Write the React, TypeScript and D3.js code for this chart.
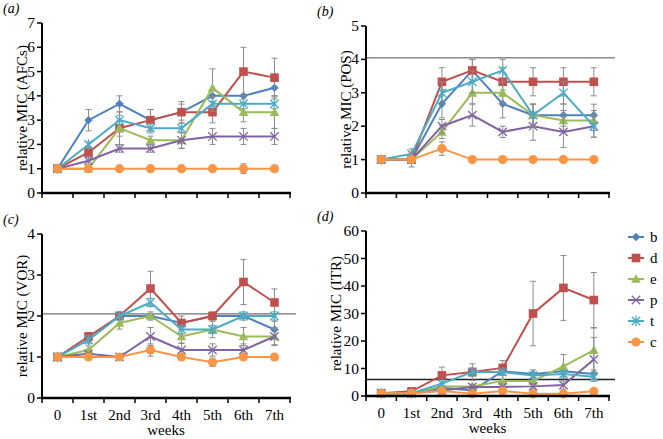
import React from "react";
import * as d3 from "d3";

// ---------- data ----------
const weeks = ["0", "1st", "2nd", "3rd", "4th", "5th", "6th", "7th"];
const seriesNames = ["b", "d", "e", "p", "t", "c"];

// (a) AFCs
const aB = [1, 3.0, 3.67, 3.0, 3.33, 4.0, 4.0, 4.33];
const aD = [1, 1.67, 2.67, 3.0, 3.33, 3.33, 5.0, 4.75];
const aE = [1, 1.0, 2.67, 2.17, 2.17, 4.33, 3.33, 3.33];
const aP = [1, 1.33, 1.83, 1.83, 2.17, 2.33, 2.33, 2.33];
const aT = [1, 2.0, 3.0, 2.67, 2.67, 3.67, 3.67, 3.67];
const aC = [1, 1, 1, 1, 1, 1, 1, 1];
const aBErr = [0, 0.44, 0.33, 0.44, 0.33, 0, 0, 0.33];
const aDErr = [0, 0.2, 0.33, 0.44, 0.44, 0.44, 1.0, 0.8];
const aEErr = [0, 0, 0.67, 0.17, 0.33, 0.78, 0.4, 0.67];
const aPErr = [0, 0.15, 0.15, 0.15, 0.33, 0.33, 0.33, 0.33];
const aTErr = [0, 0.1, 0.2, 0.2, 0.2, 0.3, 0.2, 0.2];
const aCErr = [0, 0, 0, 0, 0, 0, 0.2, 0];

// (b) POS
const bB = [1, 1.0, 2.67, 3.67, 2.67, 2.33, 2.33, 2.33];
const bD = [1, 1.0, 3.33, 3.67, 3.33, 3.33, 3.33, 3.33];
const bE = [1, 1.0, 1.83, 3.0, 3.0, 2.33, 2.17, 2.17];
const bP = [1, 1.0, 2.0, 2.33, 1.83, 2.0, 1.83, 2.0];
const bT = [1, 1.17, 3.0, 3.33, 3.67, 2.33, 3.0, 2.0];
const bC = [1, 1, 1.33, 1, 1, 1, 1, 1];
const bBErr = [0, 0, 0.42, 0.33, 0.42, 0.33, 0.33, 0.33];
const bDErr = [0, 0, 0.42, 0.33, 0.42, 0.42, 0.42, 0.42];
const bEErr = [0, 0, 0.2, 0.33, 0.33, 0.33, 0.3, 0.3];
const bPErr = [0, 0, 0.2, 0.33, 0.17, 0.42, 0.47, 0.33];
const bTErr = [0, 0.15, 0.33, 0.33, 0.33, 0.33, 0.33, 0.33];
const bCErr = [0, 0.22, 0.2, 0, 0, 0, 0, 0];

// (c) VOR
const cB = [1, 1.42, 2.0, 2.0, 1.83, 2.0, 2.0, 1.67];
const cD = [1, 1.5, 2.0, 2.67, 1.83, 2.0, 2.83, 2.33];
const cE = [1, 1.17, 1.83, 2.0, 1.5, 1.67, 1.5, 1.5];
const cP = [1, 1.08, 1.0, 1.5, 1.17, 1.17, 1.17, 1.5];
const cT = [1, 1.42, 2.0, 2.33, 1.67, 1.67, 2.0, 2.0];
const cC = [1, 1, 1, 1.17, 1, 0.87, 1, 1];
const cBErr = [0, 0, 0, 0, 0, 0, 0, 0.2];
const cDErr = [0, 0.1, 0.1, 0.42, 0.17, 0.1, 0.55, 0.33];
const cEErr = [0, 0.1, 0.15, 0.1, 0.17, 0.2, 0.22, 0.2];
const cPErr = [0, 0, 0, 0.22, 0.17, 0.15, 0.15, 0.22];
const cTErr = [0, 0.1, 0, 0.1, 0.1, 0.1, 0.1, 0.1];
const cCErr = [0, 0, 0, 0.15, 0, 0.1, 0, 0];

// (d) ITR
const dB = [1, 1, 3.0, 2.0, 9.0, 8.0, 9.0, 8.0];
const dD = [1, 1.7, 7.5, 8.7, 10.2, 30, 39.3, 34.9];
const dE = [1, 1, 3.5, 3.5, 5.5, 5.5, 10.8, 16.7];
const dP = [1, 1, 2.0, 3.3, 3.3, 3.5, 4.0, 13.3];
const dT = [1, 1, 4.5, 8.7, 8.7, 7.5, 8.0, 7.0];
const dC = [1, 1, 1.8, 0.8, 1.8, 0.8, 0.8, 1.7];
const dBErr = [0, 0, 0, 0, 0, 1.5, 1, 1.5];
const dDErr = [0, 0.5, 3, 3, 2.7, 11.7, 11.8, 10];
const dEErr = [0, 0, 0, 0, 0, 0, 4.3, 8];
const dPErr = [0, 0, 0, 1, 1, 1, 1.5, 8];
const dTErr = [0, 0, 0, 1.5, 1, 1, 1, 1];
const dCErr = [0, 0, 0, 0, 0, 0, 0, 0];

const aTicks = [0, 1, 2, 3, 4, 5, 6, 7];
const bTicks = [0, 1, 2, 3, 4, 5];
const cTicks = [0, 1, 2, 3, 4];
const dTicks = [0, 10, 20, 30, 40, 50, 60];

// ---------- styles ----------
const seriesColors = ["#4F81BD", "#C0504D", "#9BBB59", "#8064A2", "#4BACC6", "#F79646"];
const seriesShapes = ["diamond", "square", "triangle", "times", "asterisk", "circle"];
const FONT = "'Liberation Serif', 'Times New Roman', serif";

type PanelCfg = {
  label: string;
  labelX: number;
  title: string;
  values: number[][];
  errors: number[][];
  ticks: number[];
  refLine: number | null;
  refColor: string;
  xRange: [number, number];
  yRange: [number, number];
  showX: boolean;
};

const panels: PanelCfg[] = [
  {
    label: "(a)", labelX: 3, title: "relative MIC (AFCs)",
    values: [aB, aD, aE, aP, aT, aC], errors: [aBErr, aDErr, aEErr, aPErr, aTErr, aCErr],
    ticks: aTicks, refLine: null, refColor: "#808080",
    xRange: [42, 290], yRange: [193, 23], showX: false,
  },
  {
    label: "(b)", labelX: 317, title: "relative MIC (POS)",
    values: [bB, bD, bE, bP, bT, bC], errors: [bBErr, bDErr, bEErr, bPErr, bTErr, bCErr],
    ticks: bTicks, refLine: 4.05, refColor: "#8a8a8a",
    xRange: [366, 609], yRange: [193, 26], showX: false,
  },
  {
    label: "(c)", labelX: 3, title: "relative MIC (VOR)",
    values: [cB, cD, cE, cP, cT, cC], errors: [cBErr, cDErr, cEErr, cPErr, cTErr, cCErr],
    ticks: cTicks, refLine: 2.05, refColor: "#707070",
    xRange: [42, 290], yRange: [398, 234], showX: true,
  },
  {
    label: "(d)", labelX: 317, title: "relative MIC (ITR)",
    values: [dB, dD, dE, dP, dT, dC], errors: [dBErr, dDErr, dEErr, dPErr, dTErr, dCErr],
    ticks: dTicks, refLine: 6, refColor: "#222222",
    xRange: [366, 609], yRange: [396, 231], showX: true,
  },
];

function Marker({ shape, x, y, color }: { shape: string; x: number; y: number; color: string }) {
  if (shape === "circle") return <circle cx={x} cy={y} r={4.6} fill={color} />;
  if (shape === "square") return <rect x={x - 4.3} y={y - 4.3} width={8.6} height={8.6} fill={color} />;
  if (shape === "diamond") {
    const r = 4.2;
    return <path d={`M${x},${y - r}L${x + r},${y}L${x},${y + r}L${x - r},${y}Z`} fill={color} />;
  }
  if (shape === "triangle") {
    const r = 4.8;
    return <path d={`M${x},${y - r}L${x + r},${y + r * 0.8}L${x - r},${y + r * 0.8}Z`} fill={color} />;
  }
  const r = 4.2;
  const xs = `M${x - r},${y - r}L${x + r},${y + r}M${x - r},${y + r}L${x + r},${y - r}`;
  if (shape === "times") return <path d={xs} stroke={color} strokeWidth={1.3} fill="none" />;
  return <path d={xs + `M${x},${y - r - 1}L${x},${y + r + 1}`} stroke={color} strokeWidth={1.3} fill="none" />;
}

function Panel({ cfg }: { cfg: PanelCfg }) {
  const x = d3.scaleBand<string>().domain(weeks).range(cfg.xRange).padding(0);
  const yMax = cfg.ticks[cfg.ticks.length - 1];
  const y = d3.scaleLinear().domain([0, yMax]).range(cfg.yRange);
  const cx = (w: string) => (x(w) as number) + x.bandwidth() / 2;
  const line = d3.line<number>().x((_, i) => cx(weeks[i])).y((v) => y(v));
  const [x0, x1] = cfg.xRange;
  const y0 = cfg.yRange[0];
  const yMid = (cfg.yRange[0] + cfg.yRange[1]) / 2;
  const bounds = weeks.map((w) => x(w) as number).concat([x1]);

  return (
    <g>
      <text x={cfg.labelX} y={cfg.yRange[1] - 10} fontFamily={FONT} fontStyle="italic" fontSize={14}>
        {cfg.label}
      </text>
      <text
        transform={`translate(${x0 - 15 - (yMax >= 10 ? 10 : 0)},${yMid}) rotate(-90)`}
        textAnchor="middle" fontFamily={FONT} fontSize={15}
      >
        {cfg.title}
      </text>
      {cfg.ticks.map((t) => (
        <g key={t}>
          <line x1={x0 - 5} x2={x0} y1={y(t)} y2={y(t)} stroke="#000" strokeWidth={1.5} />
          <text x={x0 - 7} y={y(t) + 5} textAnchor="end" fontFamily={FONT} fontSize={15.5}>
            {t}
          </text>
        </g>
      ))}
      {bounds.map((b, i) => (
        <line key={i} x1={b} x2={b} y1={y0} y2={y0 + 5} stroke="#000" strokeWidth={1.5} />
      ))}
      {cfg.refLine !== null && (
        <line x1={x0} x2={x1 + 6} y1={y(cfg.refLine)} y2={y(cfg.refLine)} stroke={cfg.refColor} strokeWidth={1.3} />
      )}
      {cfg.values.map((vals, si) => (
        <g key={si}>
          <path d={line(vals) || ""} fill="none" stroke={seriesColors[si]} strokeWidth={2} />
          {vals.map((v, i) => {
            const e = cfg.errors[si][i];
            if (!e) return null;
            const px = cx(weeks[i]);
            return (
              <g key={i} stroke="#8c8c8c" strokeWidth={1}>
                <line x1={px} x2={px} y1={y(v - e)} y2={y(v + e)} />
                <line x1={px - 3} x2={px + 3} y1={y(v - e)} y2={y(v - e)} />
                <line x1={px - 3} x2={px + 3} y1={y(v + e)} y2={y(v + e)} />
              </g>
            );
          })}
          {vals.map((v, i) => (
            <Marker key={i} shape={seriesShapes[si]} x={cx(weeks[i])} y={y(v)} color={seriesColors[si]} />
          ))}
        </g>
      ))}
      <line x1={x0} x2={x0} y1={y0 + 1} y2={cfg.yRange[1]} stroke="#000" strokeWidth={2} />
      <line x1={x0 - 1} x2={x1 + 1} y1={y0} y2={y0} stroke="#000" strokeWidth={2.5} />
      {cfg.showX && (
        <g>
          {weeks.map((w) => (
            <text key={w} x={cx(w)} y={y0 + 22} textAnchor="middle" fontFamily={FONT} fontSize={15}>
              {w}
            </text>
          ))}
          <text x={(x0 + x1) / 2} y={y0 + 37} textAnchor="middle" fontFamily={FONT} fontSize={15}>
            weeks
          </text>
        </g>
      )}
    </g>
  );
}

function Legend() {
  const ys = d3.scalePoint<string>().domain(seriesNames).range([237, 342]);
  return (
    <g>
      {seriesNames.map((n, i) => {
        const yy = ys(n) as number;
        return (
          <g key={n}>
            <line x1={628} x2={644} y1={yy} y2={yy} stroke={seriesColors[i]} strokeWidth={2} />
            <Marker shape={seriesShapes[i]} x={636} y={yy} color={seriesColors[i]} />
            <text x={650} y={yy + 5} fontFamily={FONT} fontSize={15}>
              {n}
            </text>
          </g>
        );
      })}
    </g>
  );
}

export default function App() {
  return (
    <svg
      width={663}
      height={439}
      style={{ position: "absolute", left: 0, top: 0, background: "#fff" }}
    >
      <rect width={663} height={439} fill="#fff" />
      {panels.map((p) => (
        <Panel key={p.label} cfg={p} />
      ))}
      <Legend />
    </svg>
  );
}
